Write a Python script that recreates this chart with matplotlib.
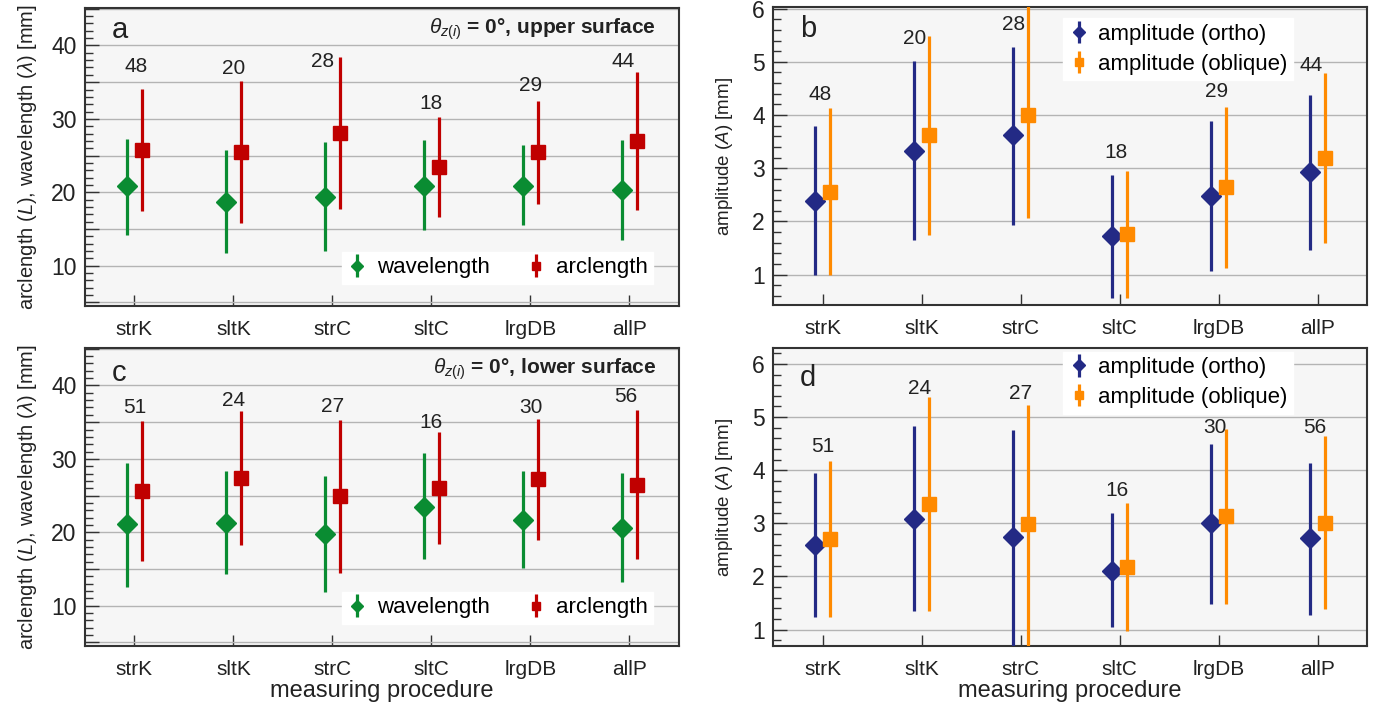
import matplotlib
matplotlib.use('Agg')
import numpy as np
import matplotlib.pyplot as plt
from matplotlib.ticker import MultipleLocator, FuncFormatter

plt.rcParams['font.family'] = ['Liberation Sans', 'DejaVu Sans']
plt.rcParams['mathtext.fontset'] = 'custom'
plt.rcParams['mathtext.rm'] = 'Liberation Sans'
plt.rcParams['mathtext.it'] = 'Liberation Sans:italic'
plt.rcParams['mathtext.bf'] = 'Liberation Sans:bold'

procedures = ['strK', 'sltK', 'strC', 'sltC', 'lrgDB', 'allP']

# upper surface: wavelength / arclength (mean, lower, upper)
up_wave_mid = [20.8, 18.7, 19.4, 20.9, 20.9, 20.3]
up_wave_lo = [14.2, 11.7, 12.0, 14.8, 15.5, 13.5]
up_wave_hi = [27.2, 25.7, 26.8, 27.1, 26.4, 27.1]
up_arc_mid = [25.8, 25.5, 28.1, 23.4, 25.5, 27.0]
up_arc_lo = [17.4, 15.8, 17.7, 16.6, 18.4, 17.6]
up_arc_hi = [34.1, 35.2, 38.4, 30.3, 32.5, 36.4]
up_n = [48, 20, 28, 18, 29, 44]

# upper surface: amplitude
up_orth_mid = [2.39, 3.33, 3.62, 1.72, 2.48, 2.93]
up_orth_lo = [1.00, 1.66, 1.94, 0.56, 1.06, 1.47]
up_orth_hi = [3.80, 5.01, 5.28, 2.88, 3.89, 4.38]
up_obl_mid = [2.56, 3.62, 4.01, 1.77, 2.65, 3.19]
up_obl_lo = [1.00, 1.74, 2.07, 0.56, 1.13, 1.59]
up_obl_hi = [4.13, 5.48, 6.10, 2.95, 4.15, 4.79]

# lower surface: wavelength / arclength
lo_wave_mid = [21.1, 21.3, 19.7, 23.5, 21.7, 20.6]
lo_wave_lo = [12.6, 14.3, 11.8, 16.3, 15.1, 13.2]
lo_wave_hi = [29.5, 28.4, 27.6, 30.8, 28.4, 28.1]
lo_arc_mid = [25.6, 27.4, 24.9, 26.0, 27.2, 26.5]
lo_arc_lo = [16.1, 18.2, 14.5, 18.4, 19.0, 16.4]
lo_arc_hi = [35.1, 36.5, 35.3, 33.7, 35.4, 36.7]
lo_n = [51, 24, 27, 16, 30, 56]

# lower surface: amplitude
lo_orth_mid = [2.59, 3.08, 2.74, 2.11, 3.00, 2.72]
lo_orth_lo = [1.23, 1.35, 0.50, 1.04, 1.49, 1.27]
lo_orth_hi = [3.94, 4.84, 4.76, 3.19, 4.50, 4.14]
lo_obl_mid = [2.70, 3.36, 2.98, 2.18, 3.13, 3.00]
lo_obl_lo = [1.24, 1.35, 0.50, 0.97, 1.49, 1.38]
lo_obl_hi = [4.18, 5.38, 5.23, 3.38, 4.77, 4.64]

# where the sample counts sit (x shift from category, y in data units)
lab_a = ([0.02, 0.0, -0.10, 0.0, 0.0, -0.06], [37.2, 36.9, 37.8, 32.1, 34.6, 37.8])
lab_b = ([-0.02, -0.07, -0.07, -0.04, -0.02, -0.06], [4.39, 5.43, 5.70, 3.29, 4.45, 4.94])
lab_c = ([0.0, 0.0, 0.0, 0.0, 0.0, -0.04], [37.0, 37.9, 37.2, 34.9, 37.0, 38.5])
lab_d = ([0.0, -0.02, 0.0, -0.03, -0.04, -0.03], [4.45, 5.53, 5.44, 3.62, 4.81, 4.81])

GREEN = '#0a8c32'
RED = '#c00000'
NAVY = '#232a85'
ORANGE = '#ff8a00'
BG = '#f6f6f6'
GRID = '#b4b4b4'
SPINE = '#333333'
INK = '#222222'

x = np.arange(len(procedures))
off = 0.075

fig = plt.figure(figsize=(13.75, 7.06), dpi=100)
w, h = 0.432, 0.422
ax_a = fig.add_axes([0.0618, 0.5666, w, h])
ax_b = fig.add_axes([0.5622, 0.5680, w, h])
ax_c = fig.add_axes([0.0618, 0.0850, w, h])
ax_d = fig.add_axes([0.5622, 0.0850, w, h])


def style(ax, ylim, major, minor, labelstep):
    ax.set_facecolor(BG)
    ax.set_xlim(-0.5, 5.5)
    ax.set_ylim(*ylim)
    ax.set_xticks(x)
    ax.set_xticklabels(procedures, fontsize=15)
    ax.yaxis.set_major_locator(MultipleLocator(major))
    ax.yaxis.set_minor_locator(MultipleLocator(minor))
    ax.yaxis.set_major_formatter(FuncFormatter(
        lambda v, p: '%g' % v if abs(v / labelstep - round(v / labelstep)) < 1e-6 else ''))
    ax.tick_params(axis='y', which='major', direction='in', length=10, width=1, labelsize=16.5,
                   pad=6, color=SPINE, labelcolor=INK)
    ax.tick_params(axis='y', which='minor', direction='in', length=6, width=1, color=SPINE)
    ax.tick_params(axis='x', direction='in', length=8, width=1, pad=10, color=SPINE,
                   labelcolor=INK)
    ax.grid(axis='y', which='major', color=GRID, lw=1)
    ax.set_axisbelow(True)
    for s in ax.spines.values():
        s.set_color(SPINE)
        s.set_linewidth(1.5)


def bars(ax, xs, mid, lo, hi, color, marker, ms, label):
    mid = np.array(mid)
    err = [mid - np.array(lo), np.array(hi) - mid]
    return ax.errorbar(xs, mid, yerr=err, fmt=marker, color=color, mec=color, ms=ms,
                       elinewidth=2.3, capsize=0, label=label, zorder=3)


def counts(ax, n, lab):
    for xi, ni, dx, yy in zip(x, n, lab[0], lab[1]):
        ax.text(xi + dx, yy, str(ni), ha='center', va='center', fontsize=15, color=INK,
                zorder=7)


def wide_legend(ax, handles):
    ax.legend(handles=handles, ncol=2, loc='center right', bbox_to_anchor=(0.975, 0.128),
              fontsize=16, markerscale=0.6, frameon=True, facecolor='white', edgecolor='white',
              framealpha=1, handlelength=0.9, handletextpad=0.45, columnspacing=1.6,
              borderpad=0.25, fancybox=False)


def tall_legend(ax, handles, top):
    ax.legend(handles=handles, loc='upper left', bbox_to_anchor=(0.47, top), fontsize=16,
              markerscale=0.6, frameon=True, facecolor='white', edgecolor='white', framealpha=1,
              handlelength=0.9, handletextpad=0.4, labelspacing=0.4, borderpad=0.25,
              fancybox=False)


len_label = r'arclength ($L$), wavelength ($\lambda$) [mm]'
amp_label = r'amplitude ($A$) [mm]'

# a: upper surface lengths
style(ax_a, (4.5, 45.1), 5, 1, 10)
ea1 = bars(ax_a, x - off, up_wave_mid, up_wave_lo, up_wave_hi, GREEN, 'D', 10, 'wavelength')
ea2 = bars(ax_a, x + off, up_arc_mid, up_arc_lo, up_arc_hi, RED, 's', 10, 'arclength')
counts(ax_a, up_n, lab_a)
ax_a.text(0.045, 0.925, 'a', transform=ax_a.transAxes, fontsize=21, va='center', color=INK)
ax_a.text(0.962, 0.93, r'$\theta_{z(i)}$ = 0°, upper surface', transform=ax_a.transAxes,
          ha='right', va='center', fontsize=15, fontweight='bold', color=INK)
ax_a.set_ylabel(len_label, fontsize=14.5, labelpad=9, color=INK)
wide_legend(ax_a, [ea1, ea2])

# b: upper surface amplitude
style(ax_b, (0.43, 6.03), 1, 0.2, 1)
eb1 = bars(ax_b, x - off, up_orth_mid, up_orth_lo, up_orth_hi, NAVY, 'D', 10, 'amplitude (ortho)')
eb2 = bars(ax_b, x + off, up_obl_mid, up_obl_lo, up_obl_hi, ORANGE, 's', 10, 'amplitude (oblique)')
counts(ax_b, up_n, lab_b)
ax_b.text(0.045, 0.925, 'b', transform=ax_b.transAxes, fontsize=21, va='center', color=INK)
ax_b.set_ylabel(amp_label, fontsize=13.5, labelpad=12, color=INK)
tall_legend(ax_b, [eb1, eb2], 1.0)

# c: lower surface lengths
style(ax_c, (4.5, 45.1), 5, 1, 10)
ec1 = bars(ax_c, x - off, lo_wave_mid, lo_wave_lo, lo_wave_hi, GREEN, 'D', 10, 'wavelength')
ec2 = bars(ax_c, x + off, lo_arc_mid, lo_arc_lo, lo_arc_hi, RED, 's', 10, 'arclength')
counts(ax_c, lo_n, lab_c)
ax_c.text(0.045, 0.915, 'c', transform=ax_c.transAxes, fontsize=21, va='center', color=INK)
ax_c.text(0.962, 0.93, r'$\theta_{z(i)}$ = 0°, lower surface', transform=ax_c.transAxes,
          ha='right', va='center', fontsize=15, fontweight='bold', color=INK)
ax_c.set_ylabel(len_label, fontsize=14.5, labelpad=9, color=INK)
ax_c.set_xlabel('measuring procedure', fontsize=17, labelpad=1, color=INK)
wide_legend(ax_c, [ec1, ec2])

# d: lower surface amplitude
style(ax_d, (0.69, 6.3), 1, 0.2, 1)
ed1 = bars(ax_d, x - off, lo_orth_mid, lo_orth_lo, lo_orth_hi, NAVY, 'D', 10, 'amplitude (ortho)')
ed2 = bars(ax_d, x + off, lo_obl_mid, lo_obl_lo, lo_obl_hi, ORANGE, 's', 10, 'amplitude (oblique)')
counts(ax_d, lo_n, lab_d)
ax_d.text(0.045, 0.9, 'd', transform=ax_d.transAxes, fontsize=21, va='center', color=INK)
ax_d.set_ylabel(amp_label, fontsize=13.5, labelpad=12, color=INK)
ax_d.set_xlabel('measuring procedure', fontsize=17, labelpad=1, color=INK)
tall_legend(ax_d, [ed1, ed2], 1.025)

fig.savefig('out.png', dpi=100, facecolor='white')
